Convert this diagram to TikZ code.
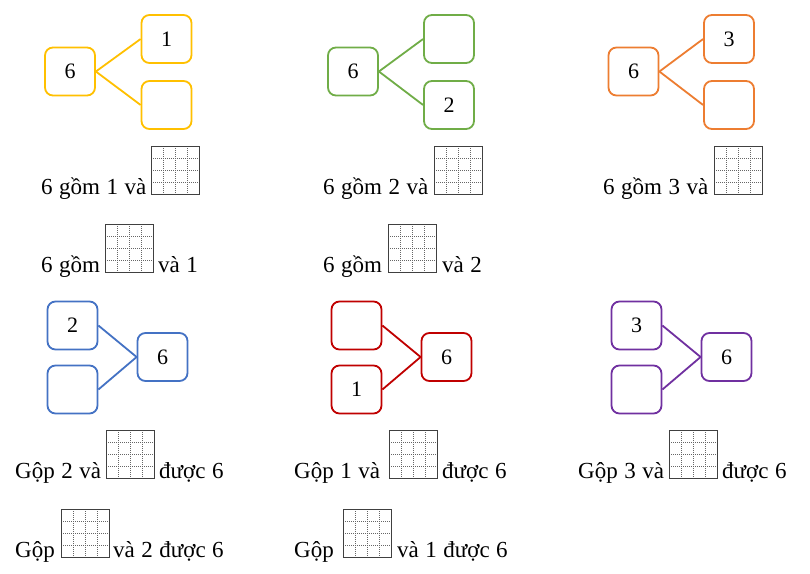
\documentclass[tikz,border=0pt]{standalone}
\usepackage{fontspec}
\setmainfont{Liberation Serif}
\usetikzlibrary{calc}
\definecolor{cyel}{HTML}{FFC000}
\definecolor{cgrn}{HTML}{70AD47}
\definecolor{corg}{HTML}{ED7D31}
\definecolor{cblu}{HTML}{4472C4}
\definecolor{cred}{HTML}{C00000}
\definecolor{cpur}{HTML}{7030A0}
\newcommand{\mytxtfont}{\fontsize{23}{27}\selectfont\spaceskip=6.5pt\relax}
\begin{document}
\begin{tikzpicture}[x=1pt,y=-1pt,
  tbox/.style={draw, rounded corners=8pt, line width=1.8pt, minimum width=50pt, minimum height=48pt, inner sep=0pt, font=\fontsize{22}{26}\selectfont},
  tline/.style={line width=1.8pt},
  txt/.style={anchor=base west, inner sep=0pt, font=\mytxtfont},
  gridbox/.style={draw=black!75, line width=0.8pt, minimum size=48pt, inner sep=0pt, anchor=south west,
    path picture={
      \foreach \f in {0.25,0.5,0.75}{
        \draw[black!60, line width=0.6pt, dash pattern=on 1pt off 1pt]
          ($(path picture bounding box.south west)!\f!(path picture bounding box.south east)$) --
          ($(path picture bounding box.north west)!\f!(path picture bounding box.north east)$);
        \draw[black!60, line width=0.6pt, dash pattern=on 1pt off 1pt]
          ($(path picture bounding box.south west)!\f!(path picture bounding box.north west)$) --
          ($(path picture bounding box.south east)!\f!(path picture bounding box.north east)$);
      }
    }}
]
\useasboundingbox (0,0) rectangle (810,573);
\fill[white] (0,0) rectangle (810,573);

% ---- top trees ----
\node[tbox, draw=cyel] (yL) at (70,71.5) {6};
\node[tbox, draw=cyel] (yA) at (166.5,39) {1};
\node[tbox, draw=cyel] (yB) at (166.5,105) {};
\draw[tline, cyel] (yL.east) -- (yA.west);
\draw[tline, cyel] (yL.east) -- (yB.west);

\node[tbox, draw=cgrn] (gL) at (353,71.5) {6};
\node[tbox, draw=cgrn] (gA) at (449,39) {};
\node[tbox, draw=cgrn] (gB) at (449,105) {2};
\draw[tline, cgrn] (gL.east) -- (gA.west);
\draw[tline, cgrn] (gL.east) -- (gB.west);

\node[tbox, draw=corg] (oL) at (633.5,71.5) {6};
\node[tbox, draw=corg] (oA) at (729,39) {3};
\node[tbox, draw=corg] (oB) at (729,105) {};
\draw[tline, corg] (oL.east) -- (oA.west);
\draw[tline, corg] (oL.east) -- (oB.west);

% ---- bottom trees ----
\node[tbox, draw=cblu] (bA) at (72.5,325.5) {2};
\node[tbox, draw=cblu] (bB) at (72.5,389.5) {};
\node[tbox, draw=cblu] (bR) at (162.5,357) {6};
\draw[tline, cblu] (bA.east) -- (bR.west);
\draw[tline, cblu] (bB.east) -- (bR.west);

\node[tbox, draw=cred] (rA) at (356.5,325.5) {};
\node[tbox, draw=cred] (rB) at (356.5,389.5) {1};
\node[tbox, draw=cred] (rR) at (446.5,357) {6};
\draw[tline, cred] (rA.east) -- (rR.west);
\draw[tline, cred] (rB.east) -- (rR.west);

\node[tbox, draw=cpur] (pA) at (636.5,325.5) {3};
\node[tbox, draw=cpur] (pB) at (636.5,389.5) {};
\node[tbox, draw=cpur] (pR) at (726.5,357) {6};
\draw[tline, cpur] (pA.east) -- (pR.west);
\draw[tline, cpur] (pB.east) -- (pR.west);

% ---- row 1 ----
\node[txt] (t1a) at (41,194) {6 gồm 1 và};
\node[gridbox] (g1a) at (151,195) {};
\node[txt] (t1b) at (323,194) {6 gồm 2 và};
\node[gridbox] (g1b) at (434,195) {};
\node[txt] (t1c) at (603,194) {6 gồm 3 và};
\node[gridbox] (g1c) at (714,195) {};

% ---- row 2 ----
\node[txt] (t2a) at (41,272) {6 gồm};
\node[gridbox] (g2a) at (105,273) {};
\node[txt] (t2a2) at (158,272) {và 1};
\node[txt] (t2b) at (323,272) {6 gồm};
\node[gridbox] (g2b) at (388,273) {};
\node[txt] (t2b2) at (442,272) {và 2};

% ---- row 3 ----
\node[txt] (t3a) at (15,478) {Gộp 2 và};
\node[gridbox] (g3a) at (106,479) {};
\node[txt] (t3a2) at (159,478) {được 6};
\node[txt] (t3b) at (294,478) {Gộp 1 và};
\node[gridbox] (g3b) at (389,479) {};
\node[txt] (t3b2) at (442,478) {được 6};
\node[txt] (t3c) at (578,478) {Gộp 3 và};
\node[gridbox] (g3c) at (669,479) {};
\node[txt] (t3c2) at (722,478) {được 6};

% ---- row 4 ----
\node[txt] (t4a) at (15,557) {Gộp};
\node[gridbox] (g4a) at (61,558) {};
\node[txt] (t4a2) at (113,557) {và 2 được 6};
\node[txt] (t4b) at (294,557) {Gộp};
\node[gridbox] (g4b) at (343,558) {};
\node[txt] (t4b2) at (397,557) {và 1 được 6};
\end{tikzpicture}
\end{document}
